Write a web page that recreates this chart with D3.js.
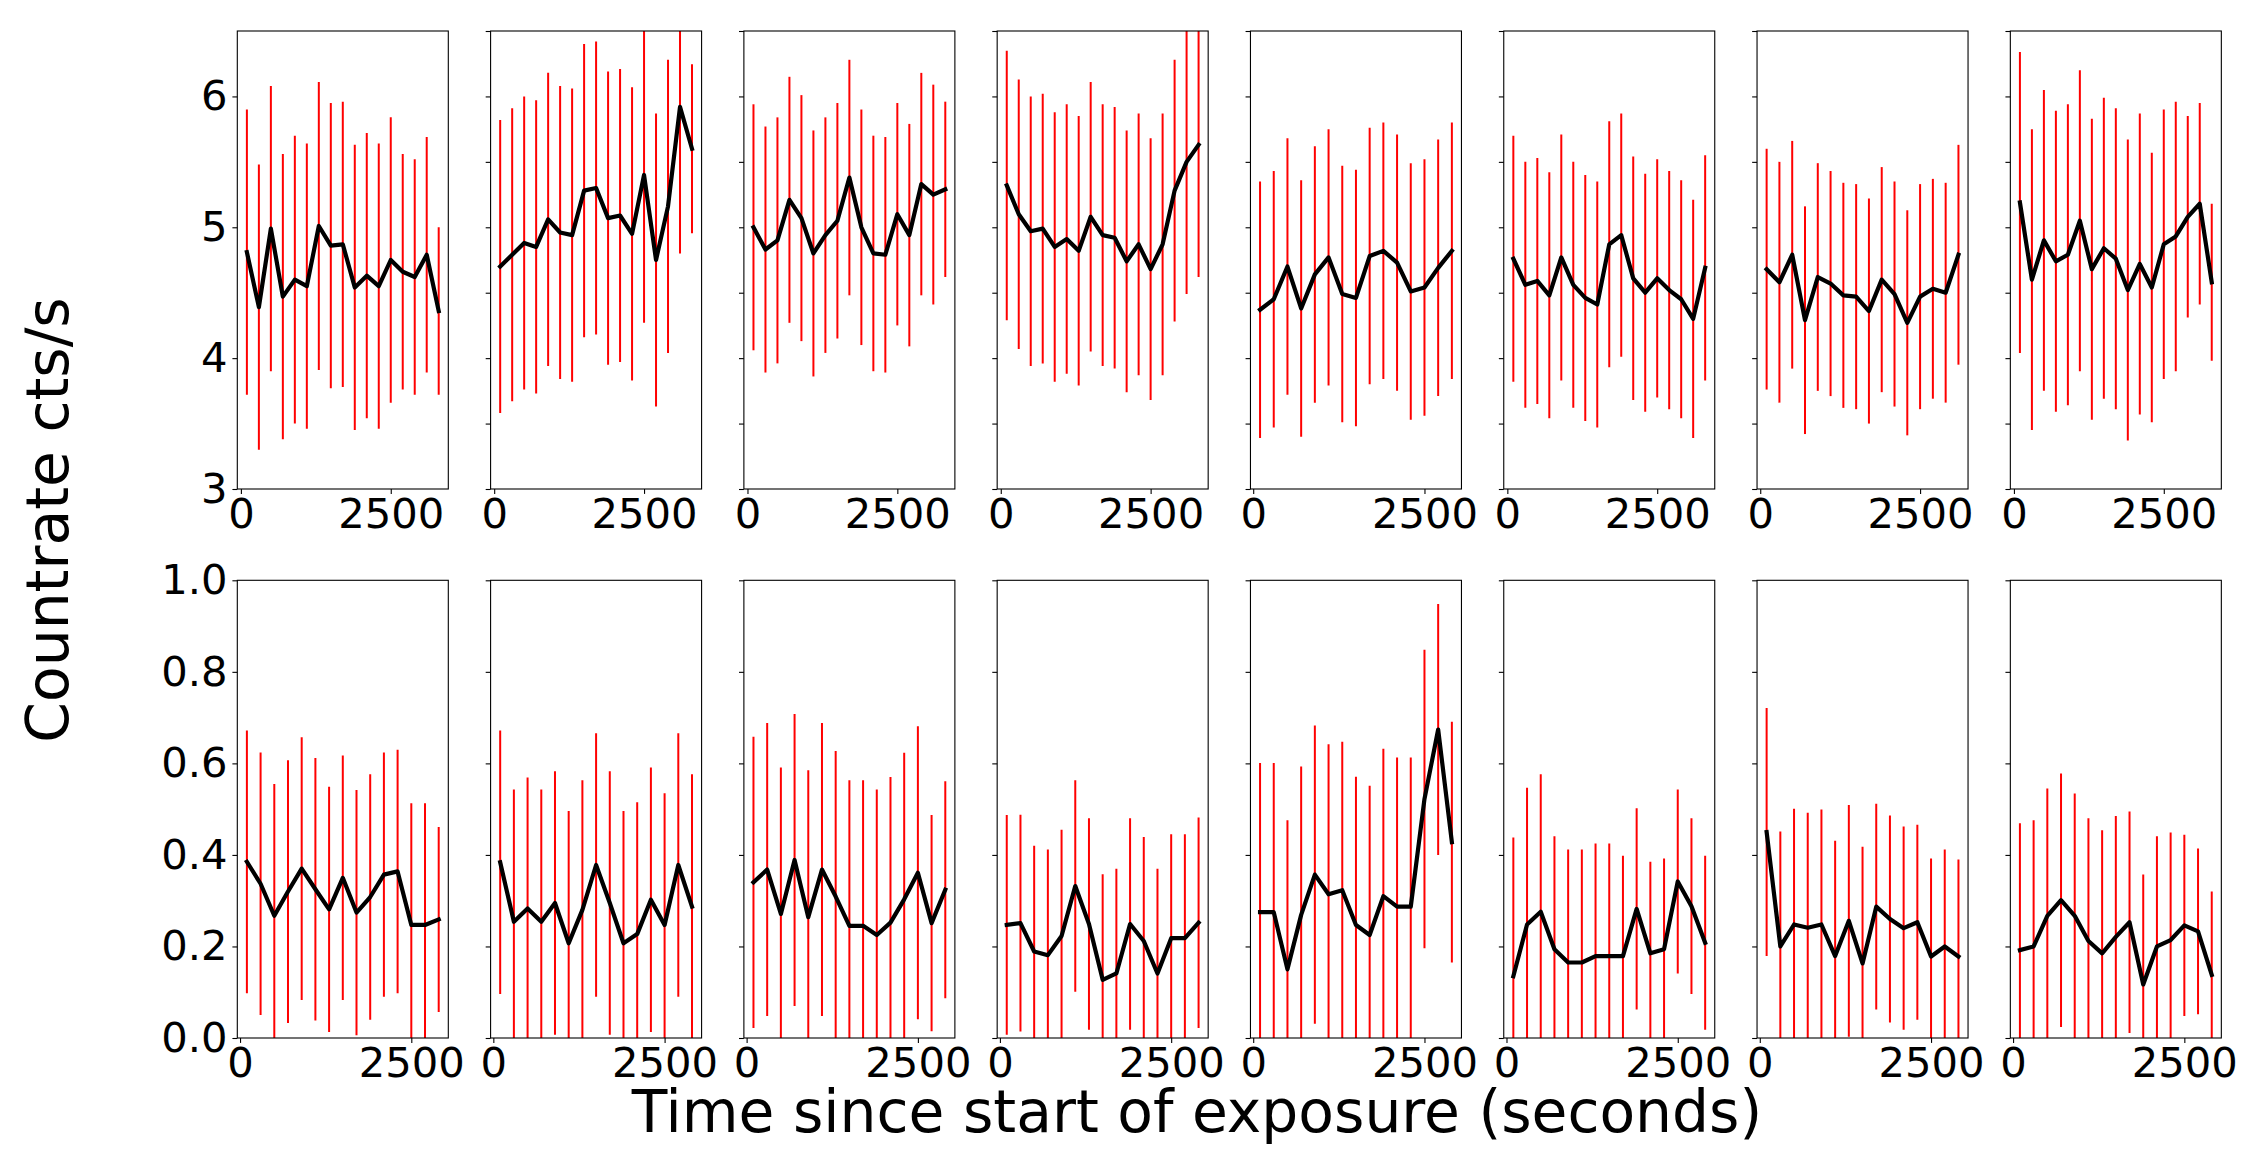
<!DOCTYPE html>
<html>
<head>
<meta charset="utf-8">
<script src="https://cdn.jsdelivr.net/npm/d3@7"></script>
<style>
  body { margin: 0; background: #fff; }
  svg { display: block; }
  text { font-family: "DejaVu Sans", sans-serif; fill: #000; }
</style>
</head>
<body>
<svg id="chart" width="2260" height="1166"></svg>
<script>
// ---------------- DATA ----------------
const times17 = [100, 300, 500, 700, 900, 1100, 1300, 1500, 1700, 1900, 2100, 2300, 2500, 2700, 2900, 3100, 3300];
const times16 = [100, 300, 500, 700, 900, 1100, 1300, 1500, 1700, 1900, 2100, 2300, 2500, 2700, 2900, 3100];
const times15 = [100, 300, 500, 700, 900, 1100, 1300, 1500, 1700, 1900, 2100, 2300, 2500, 2700, 2900];

const topTimes = [times17, times17, times17, times17, times15, times17, times16, times17];
const bottomTimes = [times15, times15, times15, times15, times15, times15, times15, times15];

const topRates = [
  [4.81, 4.39, 4.99, 4.47, 4.60, 4.55, 5.01, 4.86, 4.87, 4.54, 4.63, 4.55, 4.75, 4.66, 4.62, 4.79, 4.36],
  [4.70, 4.79, 4.88, 4.85, 5.06, 4.96, 4.94, 5.28, 5.30, 5.07, 5.09, 4.95, 5.40, 4.75, 5.16, 5.92, 5.60],
  [5.00, 4.83, 4.90, 5.21, 5.07, 4.80, 4.94, 5.05, 5.38, 5.00, 4.80, 4.79, 5.10, 4.94, 5.33, 5.25, 5.29],
  [5.32, 5.10, 4.97, 4.99, 4.85, 4.91, 4.82, 5.08, 4.94, 4.92, 4.74, 4.87, 4.68, 4.87, 5.28, 5.50, 5.63],
  [4.37, 4.45, 4.70, 4.38, 4.64, 4.77, 4.49, 4.46, 4.78, 4.82, 4.73, 4.51, 4.54, 4.69, 4.82],
  [4.76, 4.56, 4.59, 4.48, 4.77, 4.56, 4.46, 4.41, 4.87, 4.94, 4.61, 4.50, 4.61, 4.52, 4.45, 4.30, 4.69],
  [4.68, 4.58, 4.79, 4.29, 4.62, 4.57, 4.48, 4.47, 4.36, 4.60, 4.49, 4.27, 4.47, 4.53, 4.50, 4.79],
  [5.19, 4.60, 4.90, 4.74, 4.79, 5.05, 4.68, 4.84, 4.76, 4.52, 4.72, 4.54, 4.87, 4.93, 5.08, 5.18, 4.58]
];
const topErrors = [
  [1.09, 1.09, 1.09, 1.09, 1.10, 1.09, 1.10, 1.09, 1.09, 1.09, 1.09, 1.09, 1.09, 0.90, 0.90, 0.90, 0.64],
  [1.12, 1.12, 1.12, 1.12, 1.12, 1.12, 1.12, 1.12, 1.12, 1.12, 1.12, 1.12, 1.13, 1.12, 1.12, 1.12, 0.645],
  [0.94, 0.94, 0.94, 0.94, 0.94, 0.94, 0.90, 0.90, 0.90, 0.90, 0.90, 0.90, 0.85, 0.85, 0.85, 0.84, 0.67],
  [1.03, 1.03, 1.03, 1.03, 1.03, 1.03, 1.03, 1.03, 1.00, 1.00, 1.00, 1.00, 1.00, 1.00, 1.00, 1.01, 1.01],
  [0.98, 0.98, 0.98, 0.98, 0.98, 0.98, 0.98, 0.98, 0.98, 0.98, 0.98, 0.98, 0.98, 0.98, 0.98],
  [0.94, 0.94, 0.94, 0.94, 0.94, 0.94, 0.94, 0.94, 0.94, 0.93, 0.93, 0.91, 0.91, 0.91, 0.91, 0.91, 0.86],
  [0.92, 0.92, 0.87, 0.87, 0.87, 0.86, 0.86, 0.86, 0.86, 0.86, 0.86, 0.86, 0.86, 0.84, 0.84, 0.84],
  [1.15, 1.15, 1.15, 1.15, 1.15, 1.15, 1.15, 1.15, 1.15, 1.15, 1.15, 1.03, 1.03, 1.03, 0.77, 0.77, 0.60]
];

const bottomRates = [
  [0.385, 0.337, 0.267, 0.320, 0.370, 0.325, 0.281, 0.350, 0.274, 0.308, 0.357, 0.364, 0.247, 0.247, 0.259],
  [0.384, 0.254, 0.283, 0.254, 0.295, 0.207, 0.280, 0.378, 0.295, 0.207, 0.227, 0.302, 0.247, 0.378, 0.287],
  [0.340, 0.368, 0.271, 0.389, 0.264, 0.368, 0.309, 0.245, 0.245, 0.225, 0.252, 0.303, 0.361, 0.251, 0.324],
  [0.247, 0.251, 0.189, 0.181, 0.223, 0.332, 0.249, 0.127, 0.141, 0.249, 0.212, 0.141, 0.218, 0.218, 0.252],
  [0.275, 0.275, 0.150, 0.269, 0.357, 0.314, 0.323, 0.247, 0.225, 0.310, 0.287, 0.287, 0.522, 0.674, 0.428],
  [0.135, 0.248, 0.276, 0.194, 0.165, 0.165, 0.179, 0.179, 0.179, 0.282, 0.185, 0.194, 0.342, 0.288, 0.208],
  [0.450, 0.200, 0.248, 0.241, 0.248, 0.179, 0.256, 0.163, 0.287, 0.260, 0.240, 0.253, 0.178, 0.200, 0.178],
  [0.192, 0.200, 0.267, 0.301, 0.267, 0.212, 0.185, 0.221, 0.253, 0.117, 0.200, 0.214, 0.246, 0.233, 0.138]
];
const bottomErrors = [
  [0.287, 0.287, 0.288, 0.287, 0.287, 0.287, 0.268, 0.267, 0.268, 0.268, 0.267, 0.266, 0.266, 0.266, 0.202],
  [0.288, 0.289, 0.286, 0.289, 0.288, 0.289, 0.283, 0.288, 0.288, 0.289, 0.288, 0.289, 0.288, 0.288, 0.289],
  [0.318, 0.320, 0.320, 0.319, 0.321, 0.320, 0.318, 0.318, 0.318, 0.318, 0.318, 0.320, 0.320, 0.236, 0.237],
  [0.240, 0.237, 0.231, 0.231, 0.232, 0.231, 0.231, 0.231, 0.229, 0.231, 0.227, 0.229, 0.227, 0.227, 0.230],
  [0.326, 0.326, 0.326, 0.324, 0.326, 0.328, 0.324, 0.324, 0.326, 0.322, 0.326, 0.326, 0.326, 0.274, 0.263],
  [0.303, 0.299, 0.300, 0.247, 0.247, 0.247, 0.246, 0.246, 0.219, 0.220, 0.200, 0.198, 0.201, 0.192, 0.190],
  [0.271, 0.251, 0.253, 0.251, 0.251, 0.252, 0.253, 0.255, 0.225, 0.226, 0.222, 0.213, 0.214, 0.212, 0.212],
  [0.277, 0.276, 0.278, 0.277, 0.267, 0.268, 0.269, 0.264, 0.242, 0.240, 0.241, 0.235, 0.198, 0.181, 0.182]
];

const xTickValues = [0, 2500];
const topYDomain = [3, 6.5];
const bottomYDomain = [0, 1.0];
const topYTicksLabelled = [3, 4, 5, 6];
const topYTicksPlain = [3, 3.5, 4, 4.5, 5, 5.5, 6, 6.5];
const bottomYTicks = [0, 0.2, 0.4, 0.6, 0.8, 1.0];
const yTitle = "Countrate cts/s";
const xTitle = "Time since start of exposure (seconds)";

// ---------------- LAYOUT ----------------
const svg = d3.select("#chart");
const panelX0 = 237.3, panelStep = 253.29, panelW = 211;
const rows = [
  { top: 31, bottom: 489, domain: topYDomain, times: topTimes, rates: topRates, errs: topErrors,
    ticksFirst: topYTicksLabelled, ticksOther: topYTicksPlain, fmt: d3.format("d") },
  { top: 580.3, bottom: 1038, domain: bottomYDomain, times: bottomTimes, rates: bottomRates, errs: bottomErrors,
    ticksFirst: bottomYTicks, ticksOther: bottomYTicks, fmt: d3.format(".1f") }
];
const tickFont = 41.7;
const tickLen = 4.9, tickPad = 4.9;

rows.forEach((row, r) => {
  const H = row.bottom - row.top;
  row.rates.forEach((rates, i) => {
    const times = row.times[i];
    const errs = row.errs[i];
    const left = panelX0 + panelStep * i;
    const g = svg.append("g").attr("transform", `translate(${left},${row.top})`);

    const [tmin, tmax] = d3.extent(times);
    const pad = (tmax - tmin) * 0.05;
    const x = d3.scaleLinear().domain([tmin - pad, tmax + pad]).range([0, panelW]);
    const y = d3.scaleLinear().domain(row.domain).range([H, 0]);

    const clipId = `clip-${r}-${i}`;
    g.append("clipPath").attr("id", clipId)
      .append("rect").attr("width", panelW).attr("height", H);

    const plot = g.append("g").attr("clip-path", `url(#${clipId})`);
    const pts = times.map((t, k) => ({ t, v: rates[k], e: errs[k] }));

    plot.selectAll("line.err").data(pts).enter().append("line")
      .attr("class", "err")
      .attr("x1", d => x(d.t)).attr("x2", d => x(d.t))
      .attr("y1", d => y(d.v - d.e)).attr("y2", d => y(d.v + d.e))
      .attr("stroke", "#ff0000").attr("stroke-width", 2);

    plot.append("path").datum(pts)
      .attr("d", d3.line().x(d => x(d.t)).y(d => y(d.v)))
      .attr("fill", "none").attr("stroke", "#000").attr("stroke-width", 4.2)
      .attr("stroke-linejoin", "round").attr("stroke-linecap", "square");

    // x axis
    const xAxis = g.append("g").attr("transform", `translate(0,${H})`)
      .call(d3.axisBottom(x).tickValues(xTickValues).tickFormat(d3.format("d"))
        .tickSize(tickLen).tickPadding(tickPad));
    xAxis.select(".domain").remove();
    xAxis.selectAll("line").attr("stroke-width", 1.1);
    xAxis.selectAll("text").style("font-size", tickFont + "px").attr("font-family", "DejaVu Sans");

    // y axis
    const first = i === 0;
    const yAxis = g.append("g")
      .call(d3.axisLeft(y).tickValues(first ? row.ticksFirst : row.ticksOther)
        .tickFormat(first ? row.fmt : () => "")
        .tickSize(tickLen).tickPadding(tickPad));
    yAxis.select(".domain").remove();
    yAxis.selectAll("line").attr("stroke-width", 1.1);
    yAxis.selectAll("text").style("font-size", tickFont + "px").attr("font-family", "DejaVu Sans");

    // frame
    g.append("rect").attr("width", panelW).attr("height", H)
      .attr("fill", "none").attr("stroke", "#000").attr("stroke-width", 1.1);
  });
});

// titles
svg.append("text")
  .attr("transform", "translate(68,520) rotate(-90)")
  .attr("text-anchor", "middle")
  .style("font-size", "58.3px")
  .text(yTitle);

svg.append("text")
  .attr("x", 1197).attr("y", 1132)
  .attr("text-anchor", "middle")
  .style("font-size", "58.3px")
  .text(xTitle);
</script>
</body>
</html>
